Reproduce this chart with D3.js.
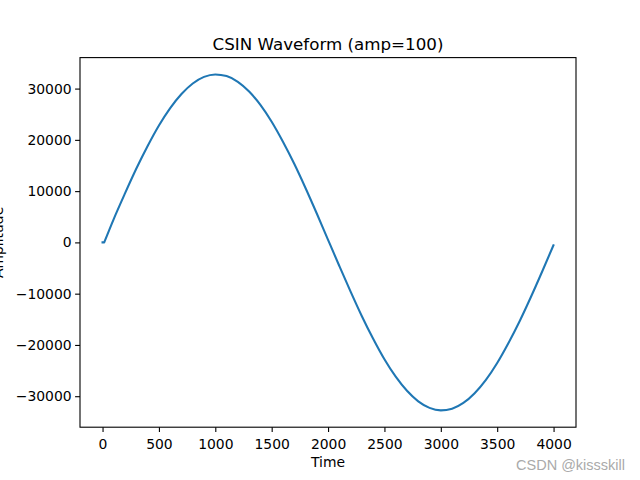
<!DOCTYPE html>
<html><head><meta charset="utf-8">
<script src="https://cdn.jsdelivr.net/npm/d3@7"></script>
<style>body{margin:0;background:#fff}svg{display:block;font-family:"DejaVu Sans",sans-serif}</style>
</head><body><div id="chart"></div>
<script>
const timeValues = [0, 15, 100, 200, 300, 400, 500, 600, 700, 800, 900, 1000, 1100, 1200, 1300, 1400, 1500, 1600, 1700, 1800, 1900, 2000,
  2100, 2200, 2300, 2400, 2500, 2600, 2700, 2800, 2900, 3000, 3100, 3200, 3300, 3400, 3500, 3600, 3700, 3800, 3900, 3999];
const amplitudeValues = [0, 0, 4600, 9600, 14400, 18800, 22800, 26200, 28950, 31000, 32280, 32760, 32440, 31320, 29420, 26820, 23530, 19630, 15330, 10610, 5630, 500,
  -4600, -9600, -14400, -18800, -22800, -26200, -28950, -31000, -32280, -32760, -32440, -31320, -29420, -26820, -23530, -19630, -15330, -10610, -5630, -560];
const xTicks = [0, 500, 1000, 1500, 2000, 2500, 3000, 3500, 4000];
const yTicks = [-30000, -20000, -10000, 0, 10000, 20000, 30000];
const titleText = "CSIN Waveform (amp=100)";
const xLabel = "Time", yLabel = "Amplitude", watermark = "CSDN @kissskill";

const W = 640, H = 480;
const m = {left: 80, right: 576, top: 57.6, bottom: 427.2};
const svg = d3.select("#chart").append("svg").attr("width", W).attr("height", H);

const xMin = d3.min(timeValues), xMax = d3.max(timeValues);
const xPad = (xMax - xMin) * 0.05;
const x = d3.scaleLinear().domain([xMin - xPad, xMax + xPad]).range([m.left, m.right]);
const yMin = -32768, yMax = 32767, yPad = (yMax - yMin) * 0.05;
const y = d3.scaleLinear().domain([yMin - yPad, yMax + yPad]).range([m.bottom, m.top]);

const pts = timeValues.map((t, i) => [t, amplitudeValues[i]]);
const smooth = d3.line().x(d => x(d[0])).y(d => y(d[1])).curve(d3.curveMonotoneX);
const pathD = `M${x(pts[0][0])},${y(pts[0][1])}` + smooth(pts.slice(1)).replace(/^M/, "L");
svg.append("path").attr("d", pathD)
  .attr("fill", "none").attr("stroke", "#1f77b4").attr("stroke-width", 2.08)
  .attr("stroke-linejoin", "round").attr("stroke-linecap", "square");

const fs = "13.9px";
const xAxis = svg.append("g").attr("transform", `translate(0,${m.bottom})`)
  .call(d3.axisBottom(x).tickValues(xTicks).tickSize(4.9).tickPadding(3.5).tickFormat(d3.format("d")));
const yAxis = svg.append("g").attr("transform", `translate(${m.left},0)`)
  .call(d3.axisLeft(y).tickValues(yTicks).tickSize(4.9).tickPadding(3.5).tickFormat(d => d < 0 ? "\u2212" + Math.abs(d) : String(d)));
[xAxis, yAxis].forEach(g => {
  g.select(".domain").remove();
  g.selectAll("line").attr("stroke", "#000").attr("stroke-width", 1.1);
  g.selectAll("text").attr("font-size", fs).attr("font-family", "DejaVu Sans").attr("fill", "#000");
});
xAxis.selectAll("text").attr("dy", "0.95em");

svg.append("rect").attr("x", m.left).attr("y", m.top).attr("width", m.right - m.left).attr("height", m.bottom - m.top)
  .attr("fill", "none").attr("stroke", "#000").attr("stroke-width", 1.1);

svg.append("text").attr("x", (m.left + m.right) / 2).attr("y", 49.5).attr("text-anchor", "middle")
  .attr("font-size", "16.7px").text(titleText);
svg.append("text").attr("x", (m.left + m.right) / 2).attr("y", 467).attr("text-anchor", "middle")
  .attr("font-size", fs).text(xLabel);
svg.append("text").attr("transform", `translate(3,${(m.top + m.bottom) / 2}) rotate(-90)`).attr("text-anchor", "middle")
  .attr("font-size", fs).text(yLabel);
svg.append("text").attr("x", 625).attr("y", 469.5).attr("text-anchor", "end")
  .attr("font-size", "14.5px").attr("font-family", "Liberation Sans, Arial, sans-serif").attr("fill", "#aaaaaa").text(watermark);
</script></body></html>
